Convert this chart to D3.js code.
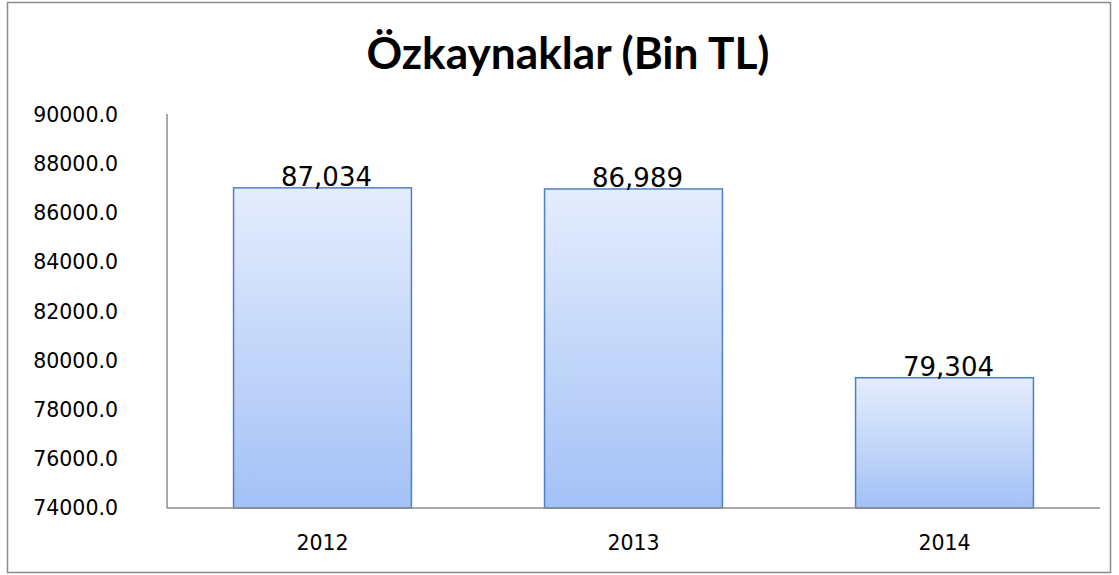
<!DOCTYPE html>
<html>
<head>
<meta charset="utf-8">
<script src="https://cdn.jsdelivr.net/npm/d3@7"></script>
<style>
  body { margin: 0; background: #fff; }
  text { font-family: "DejaVu Sans", Verdana, sans-serif; fill: #000; }
</style>
</head>
<body>
<div id="chart"></div>
<script>
  var years = ["2012", "2013", "2014"];
  var equity = [87034, 86989, 79304];
  var yTicks = [74000, 76000, 78000, 80000, 82000, 84000, 86000, 88000, 90000];
  var chartTitle = "Özkaynaklar (Bin TL)";

  var svgWidth = 1119;
  var svgHeight = 575;

  var margin = { top: 115, right: 19, bottom: 67, left: 167 };
  var width = svgWidth - margin.left - margin.right;
  var height = svgHeight - margin.top - margin.bottom;

  var svg = d3.select("#chart")
    .append("svg")
    .attr("width", svgWidth)
    .attr("height", svgHeight);

  // gradient fill for bars
  var grad = svg.append("defs").append("linearGradient")
    .attr("id", "barFill")
    .attr("x1", 0).attr("y1", 0).attr("x2", 0).attr("y2", 1);
  grad.append("stop").attr("offset", "0%").attr("stop-color", "#e4edfd");
  grad.append("stop").attr("offset", "100%").attr("stop-color", "#a3c1f6");

  // outer border
  svg.append("rect")
    .attr("x", 7.5).attr("y", 2.5)
    .attr("width", 1103).attr("height", 570)
    .attr("fill", "none")
    .attr("stroke", "#8c8c8c")
    .attr("stroke-width", 1.5);

  svg.append("text")
    .attr("x", 568)
    .attr("y", 69)
    .attr("text-anchor", "middle")
    .attr("textLength", 403)
    .attr("lengthAdjust", "spacingAndGlyphs")
    .style("font-family", "Lato, 'Open Sans', sans-serif")
    .style("font-weight", "bold")
    .style("font-size", "43px")
    .text(chartTitle);

  var chartGroup = svg.append("g")
    .attr("transform", `translate(${margin.left}, ${margin.top})`);

  var xScale = d3.scaleBand()
    .domain(years)
    .range([0, width])
    .paddingInner(0.428)
    .paddingOuter(0.214);

  var yScale = d3.scaleLinear()
    .domain([74000, 90000])
    .range([height, 0]);

  var leftAxis = d3.axisLeft(yScale)
    .tickValues(yTicks)
    .tickFormat(d3.format(".1f"))
    .tickSize(0)
    .tickPadding(49);

  var bottomAxis = d3.axisBottom(xScale)
    .tickSize(0)
    .tickPadding(27);

  var yAxisG = chartGroup.append("g").call(leftAxis);
  yAxisG.select(".domain").remove();
  yAxisG.selectAll("text")
    .style("font-size", "20.5px")
    .style("font-family", "'DejaVu Sans', sans-serif");

  var xAxisG = chartGroup.append("g")
    .attr("transform", `translate(0, ${height})`)
    .call(bottomAxis);
  xAxisG.select(".domain").remove();
  xAxisG.selectAll("text")
    .style("font-size", "20.5px")
    .style("font-family", "'DejaVu Sans', sans-serif");

  var data = years.map(function(y, i) { return { year: y, value: equity[i] }; });

  // bars
  chartGroup.selectAll("rect.bar")
    .data(data)
    .enter()
    .append("rect")
    .attr("class", "bar")
    .attr("x", d => xScale(d.year))
    .attr("y", d => yScale(d.value))
    .attr("width", xScale.bandwidth())
    .attr("height", d => height - yScale(d.value))
    .attr("fill", "url(#barFill)")
    .attr("stroke", "#4f7fc4")
    .attr("stroke-width", 1.5);

  // axis lines
  chartGroup.append("line")
    .attr("x1", 0).attr("x2", 0)
    .attr("y1", -1).attr("y2", height)
    .attr("stroke", "#8c8c8c").attr("stroke-width", 1.5);

  chartGroup.append("line")
    .attr("x1", 0).attr("x2", width)
    .attr("y1", height).attr("y2", height)
    .attr("stroke", "#8c8c8c").attr("stroke-width", 1.5);

  // value labels
  chartGroup.selectAll("text.val")
    .data(data)
    .enter()
    .append("text")
    .attr("class", "val")
    .attr("x", d => xScale(d.year) + xScale.bandwidth() / 2 + 4)
    .attr("y", d => yScale(d.value) - 2)
    .attr("text-anchor", "middle")
    .style("font-size", "26px")
    .text(d => d3.format(",")(d.value));
</script>
</body>
</html>
